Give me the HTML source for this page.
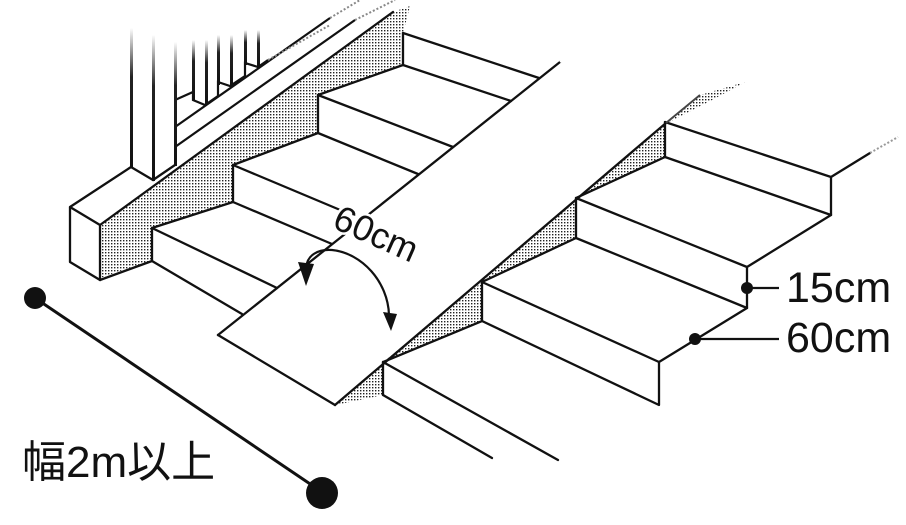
<!DOCTYPE html>
<html><head><meta charset="utf-8"><style>
html,body{margin:0;padding:0;background:#fff;}
svg{display:block;}
</style></head><body>
<svg width="906" height="525" viewBox="0 0 906 525" xmlns="http://www.w3.org/2000/svg">
<defs>
<pattern id="dots" width="3" height="3" patternUnits="userSpaceOnUse">
<rect width="3" height="3" fill="#fff"/>
<rect x="0" y="0" width="1.4" height="1.4" fill="#222"/>
</pattern>
<linearGradient id="fadeV" x1="0" y1="0" x2="0" y2="1">
<stop offset="0" stop-color="#fff"/><stop offset="0.35" stop-color="#222"/><stop offset="1" stop-color="#111"/>
</linearGradient>
<linearGradient id="fadeR" gradientUnits="userSpaceOnUse" x1="0" y1="0" x2="420" y2="0">
<stop offset="0.55" stop-color="#111"/><stop offset="1" stop-color="#fff"/>
</linearGradient>
</defs>

<g fill="url(#dots)" stroke="none">
<polygon points="100,225 393,12 410,6 403,33 403,65 318,95 318,133 233,165 233,202 152,228 152,260 100,278"/>
<polygon points="576,199 665,124 665,157"/>
<polygon points="482,281 576,200 576,238"/>
<polygon points="383,362 482,282 482,321"/>
<polygon points="335,405 383,363 383,395"/>
<polygon points="665,124 700,95 745,82 712,100"/>
</g>

<g stroke="#111" stroke-width="2.3" fill="none" stroke-linecap="round" stroke-linejoin="round">
<polyline points="70,207 70,262 100,280 100,225 70,207 131,167 153,180"/>
<line x1="100" y1="280" x2="152" y2="261"/>
<line x1="153" y1="180" x2="175" y2="165"/>
<line x1="100" y1="225" x2="393" y2="12"/>
<polyline points="152,261 152,228 233,202 233,165 318,133 318,95 403,65 403,33"/>
<line x1="403" y1="33" x2="539" y2="78"/>
<line x1="403" y1="65" x2="511" y2="101"/>
<line x1="318" y1="95" x2="453" y2="147"/>
<line x1="318" y1="133" x2="418" y2="174"/>
<line x1="233" y1="165" x2="345" y2="212"/>
<line x1="233" y1="202" x2="332" y2="244"/>
<line x1="152" y1="228" x2="277" y2="288"/>
<line x1="152" y1="261" x2="242" y2="314"/>
<line x1="218" y1="335" x2="345" y2="234"/>
<line x1="368" y1="215" x2="560" y2="62"/>
<line x1="218" y1="335" x2="335" y2="405"/>
<line x1="335" y1="405" x2="666" y2="123"/>
<polyline points="665,122 665,157 576,198 576,238 482,282 482,321 383,362 383,395"/>
<polyline points="665,122 831,177 831,215 665,157"/>
<polyline points="831,215 747,267 747,308 576,238"/>
<line x1="576" y1="198" x2="747" y2="267"/>
<polyline points="747,308 659,362 659,405 482,321"/>
<line x1="482" y1="282" x2="659" y2="362"/>
<line x1="383" y1="362" x2="558" y2="460"/>
<line x1="383" y1="395" x2="492" y2="458"/>
<line x1="831" y1="177" x2="870" y2="153"/>
</g>
<g stroke-width="2" fill="none">
<line x1="560" y1="62" x2="596" y2="33" stroke="url(#fadeR)"/>
<line x1="870" y1="153" x2="898" y2="137" stroke="#999" stroke-dasharray="2,2"/>
<line x1="666" y1="123" x2="700" y2="95" stroke="#444"/>
<line x1="175" y1="147" x2="355" y2="20" stroke="#111" stroke-width="2.2"/>
<line x1="175" y1="127" x2="330" y2="18" stroke="#111" stroke-width="2.2"/>
<line x1="355" y1="20" x2="395" y2="0" stroke="#888" stroke-dasharray="2,2"/>
<line x1="330" y1="18" x2="360" y2="0" stroke="#888" stroke-dasharray="2,2"/>
<polyline points="175,100 193,92 193,100 205,105 218,96 218,82 230,86 245,76 245,63 258,67 268,60" stroke="#111" stroke-width="2.2"/>
<line x1="268" y1="60" x2="330" y2="25" stroke="#888" stroke-dasharray="2,2"/>
</g>
<g fill="url(#fadeV)">
<rect x="130" y="28" width="3" height="140"/>
<rect x="152" y="35" width="3" height="146"/>
<rect x="174" y="42" width="3" height="124"/>
<rect x="192" y="40" width="3" height="60"/>
<rect x="205" y="40" width="3" height="65"/>
<rect x="217" y="35" width="3" height="50"/>
<rect x="230" y="35" width="3" height="52"/>
<rect x="244" y="30" width="3" height="35"/>
<rect x="257" y="30" width="3" height="38"/>
</g>

<path d="M306,268 C307,255 318,249 332,250 C362,253 388,282 389,315" stroke="#111" stroke-width="2.2" fill="none"/>
<polygon points="298,262 314,264 306,286" fill="#111"/>
<polygon points="383,312 397,314 391,331" fill="#111"/>
<text x="376" y="246" font-family="Liberation Sans, sans-serif" font-size="36" fill="#111" text-anchor="middle" transform="rotate(24 376 234)" stroke="#fff" stroke-width="5" paint-order="stroke">60cm</text>

<circle cx="747" cy="288" r="6" fill="#111"/>
<line x1="747" y1="288" x2="779" y2="288" stroke="#111" stroke-width="2.2"/>
<circle cx="695" cy="339" r="6" fill="#111"/>
<line x1="695" y1="339" x2="779" y2="339" stroke="#111" stroke-width="2.2"/>
<text x="786" y="302" font-family="Liberation Sans, sans-serif" font-size="43" fill="#111">15cm</text>
<text x="786" y="352" font-family="Liberation Sans, sans-serif" font-size="43" fill="#111">60cm</text>

<line x1="35" y1="298" x2="322" y2="492" stroke="#111" stroke-width="3"/>
<circle cx="35" cy="298" r="11" fill="#111"/>
<circle cx="322" cy="493" r="16" fill="#111"/>
<text x="22" y="477" font-family="Liberation Sans, 'Noto Sans CJK JP', sans-serif" font-size="44" fill="#111">幅2m以上</text>
</svg>
</body></html>
